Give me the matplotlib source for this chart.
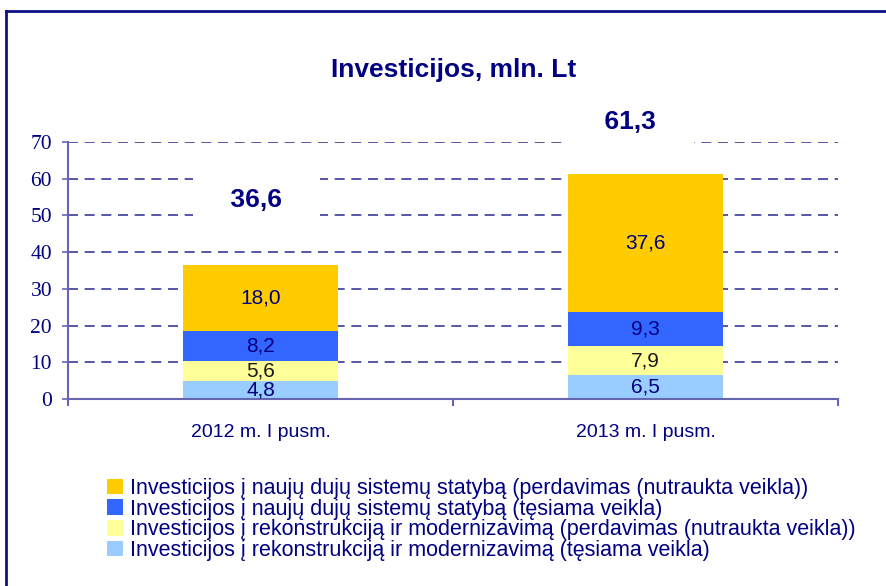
import matplotlib
matplotlib.use('Agg')
import matplotlib.pyplot as plt
from matplotlib.lines import Line2D
from matplotlib.patches import Patch

categories = ['2012 m. I pusm.', '2013 m. I pusm.']
series_names = [
    'Investicijos į rekonstrukciją ir modernizavimą (tęsiama veikla)',
    'Investicijos į rekonstrukciją ir modernizavimą (perdavimas (nutraukta veikla))',
    'Investicijos į naujų dujų sistemų statybą (tęsiama veikla)',
    'Investicijos į naujų dujų sistemų statybą (perdavimas (nutraukta veikla))',
]
series_values = [
    [4.8, 6.5],
    [5.6, 7.9],
    [8.2, 9.3],
    [18.0, 37.6],
]
totals = ['36,6', '61,3']
total_y = [54.2, 75.5]

colors = ['#99CCFF', '#FFFF99', '#3366FF', '#FFCC00']
label_colors = ['#000080', '#1a1a1a', '#000080', '#000080']
NAVY = '#000080'
SANS = 'Liberation Sans'
SERIF = 'Liberation Serif'

fig = plt.figure(figsize=(8.86, 5.86), dpi=100)
ax = fig.add_axes([68/886, 1-399/586, 770/886, 257/586])

x = list(range(len(categories)))
bottoms = [0.0] * len(categories)
for vals, c, lc in zip(series_values, colors, label_colors):
    ax.bar(x, vals, width=0.405, bottom=bottoms, color=c, zorder=2)
    for xi, v, b in zip(x, vals, bottoms):
        ax.text(xi, b + v/2, f'{v:.1f}'.replace('.', ','), ha='center', va='center',
                fontsize=15, color=lc, family=SANS, zorder=3)
    bottoms = [b + v for b, v in zip(bottoms, vals)]

# totals above the bars, white box hides the grid
for xi, t, ty, dx in zip(x, totals, total_y, [-0.01, -0.04]):
    ax.text(xi + dx, ty, ' ' + t + ' ', ha='center', va='center', fontsize=19,
            fontweight='bold', color=NAVY, family=SANS, zorder=4,
            bbox=dict(boxstyle='square,pad=1.15', fc='white', ec='none'))

ax.set_xlim(-0.5, 1.5)
ax.set_ylim(0, 70)
ax.set_yticks(range(0, 71, 10))
ax.set_xticks([-0.5, 0.5, 1.5], minor=False)
ax.set_xticklabels(['', '', ''])
ax.set_xticks(x, minor=True)
ax.set_xticklabels(categories, minor=True)
ax.tick_params(axis='x', which='minor', length=0, pad=18, labelsize=14, labelcolor=NAVY)
ax.tick_params(axis='x', which='major', length=5, color='#6666b0', width=1.5)
ax.tick_params(axis='y', length=4.5, color='#6666b0', width=1.2, pad=7,
               labelsize=15.5, labelcolor=NAVY)
for lab in ax.get_yticklabels():
    lab.set_family(SERIF)
for lab in ax.get_xticklabels(minor=True):
    lab.set_family(SANS)

ax.grid(axis='y', color='#3a3a9a', linewidth=1.2, dashes=(6, 4), zorder=0)
ax.set_axisbelow(True)
for s in ['top', 'right']:
    ax.spines[s].set_visible(False)
for s in ['left', 'bottom']:
    ax.spines[s].set_color('#6666b0')
    ax.spines[s].set_linewidth(1.5)

fig.text(454/886, 1-70/586, 'Investicijos, mln. Lt', ha='center', va='center',
         fontsize=19, fontweight='bold', color=NAVY, family=SANS)

handles = [Patch(facecolor=c, edgecolor='none') for c in colors][::-1]
leg = fig.legend(handles, series_names[::-1], loc='upper left',
                 bbox_to_anchor=(107/886, 1-478/586), frameon=False,
                 prop={'family': SANS, 'size': 15.5}, handlelength=0.75, handleheight=0.75,
                 handletextpad=0.32, labelspacing=-0.015, borderpad=0, borderaxespad=0)
for t in leg.get_texts():
    t.set_color(NAVY)

# outer frame
fig.add_artist(Line2D([6/886, 6/886], [0, 1-11/586], transform=fig.transFigure,
                      color='#10108a', linewidth=2))
fig.add_artist(Line2D([6/886, 1], [1-11/586, 1-11/586], transform=fig.transFigure,
                      color='#10108a', linewidth=2))

fig.savefig('out.png', dpi=100)
